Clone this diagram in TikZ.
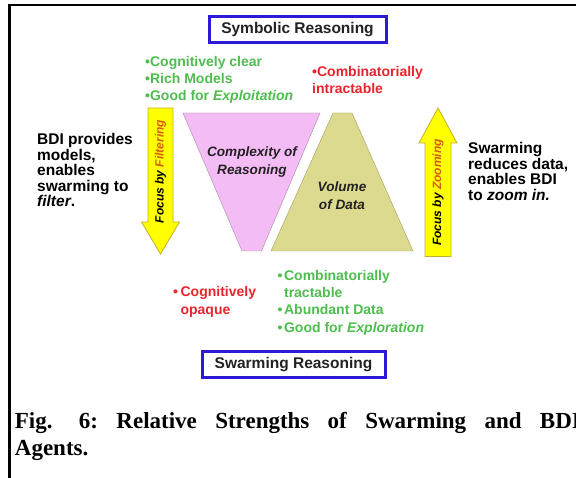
\documentclass[tikz,border=0pt]{standalone}
\usepackage{fontspec}
\setmainfont{Liberation Serif}
\setsansfont{Liberation Sans}
\usetikzlibrary{positioning}

\definecolor{cblue}{RGB}{45,25,215}
\definecolor{cgreen}{RGB}{78,190,78}
\definecolor{cred}{RGB}{232,36,44}
\definecolor{cyellow}{RGB}{255,255,0}
\definecolor{cgold}{RGB}{196,176,40}
\definecolor{cpink}{RGB}{244,188,244}
\definecolor{cpinkline}{RGB}{165,135,165}
\definecolor{ckhaki}{RGB}{220,218,142}
\definecolor{ckhakiline}{RGB}{160,158,90}
\definecolor{cfilter}{RGB}{215,92,20}
\definecolor{cink}{RGB}{34,34,34}
\newcommand{\pxsize}[2]{\fontsize{#1pt}{#2pt}\selectfont}
\tikzset{strengths/.style={x=1pt,y=-1pt,font=\sffamily\bfseries},
  reasonbox/.style={draw=cblue,line width=3pt,minimum height=26pt,inner sep=0pt,
    text=cink,font=\sffamily\bfseries\pxsize{15.5}{18}},
  focusarrow/.style={fill=cyellow,draw=cgold,line width=0.8pt,line join=miter},
  arrowtext/.style={rotate=90,inner sep=0pt,font=\sffamily\bfseries\itshape\pxsize{12}{14}},
  trilabel/.style={anchor=base,inner sep=0pt,text=cink,font=\sffamily\bfseries\itshape\pxsize{13.6}{18}},
  bullets/.style={anchor=base west,inner sep=0pt,font=\sffamily\bfseries\pxsize{14}{17.2}},
  sidetext/.style={anchor=base west,inner sep=0pt,font=\sffamily\bfseries\pxsize{15.5}{#1}}}

\begin{document}
\begin{tikzpicture}[strengths]
    \useasboundingbox (0,0) rectangle (576,478);
    \fill[white] (0,0) rectangle (576,478);
    \draw[line width=2.6pt] (9.5,478) -- (9.5,5) -- (576,5);                  % frame
    \node[reasonbox,minimum width=177pt] (symb) at (297.5,29.2) {Symbolic Reasoning};
    \node[reasonbox,minimum width=183pt] (swarm) at (293.5,365) {Swarming Reasoning};
    % the two funnels
    \draw[cpinkline,fill=cpink] (183,113) -- (320,113) -- (261.5,251) -- (242,251) -- cycle;
    \draw[ckhakiline,fill=ckhaki] (333,113) -- (352,113) -- (413,251) -- (271,251) -- cycle;
    \node[trilabel] (cplx) at (252,156.5) {\begin{tabular}[t]{@{}c@{}}Complexity of\\Reasoning\end{tabular}};
    \node[trilabel] (vol) at (342,191.5) {\begin{tabular}[t]{@{}c@{}}Volume\\of Data\end{tabular}};
    % focus arrows
    \draw[focusarrow] (148,108) -- (173,108) -- (173,222) -- (179.5,222) -- (160.5,254)
        -- (141.5,222) -- (148,222) -- cycle;
    \draw[focusarrow] (425,256.5) -- (425,143) -- (419,143) -- (438,108) -- (457,143)
        -- (451,143) -- (451,256.5) -- cycle;
    \node[arrowtext] (filt) at (160.5,171.5) {Focus by \textcolor{cfilter}{Filtering}};
    \node[arrowtext] (zoom) at (438,192.5) {Focus by \textcolor{cfilter}{Zooming}};
    % strengths and weaknesses
    \node[bullets,cgreen] (symgood) at (145,66.5)
        {\begin{tabular}[t]{@{}l@{}}•Cognitively clear\\•Rich Models\\•Good for \textit{Exploitation}\end{tabular}};
    \node[bullets,cred] (symbad) at (312,76.7)
        {\begin{tabular}[t]{@{}l@{}}•Combinatorially\\intractable\end{tabular}};
    \node[bullets,cred] (swbad) at (173,297)
        {\begin{tabular}[t]{@{}l@{\hspace{2.5pt}}l@{}}•&Cognitively\\&opaque\end{tabular}};
    \node[bullets,cgreen] (swgood) at (277.5,280.5)
        {\begin{tabular}[t]{@{}l@{\hspace{1.5pt}}l@{}}•&Combinatorially\\&tractable\\•&Abundant Data\\•&Good for \textit{Exploration}\end{tabular}};
    \node[sidetext=14.6] (bdi) at (37,144.5)
        {\begin{tabular}[t]{@{}l@{}}BDI provides\\models,\\enables\\swarming to\\\textit{filter}.\end{tabular}};
    \node[sidetext=14.3] (swm) at (468,153.5)
        {\begin{tabular}[t]{@{}l@{}}Swarming\\reduces data,\\enables BDI\\to \textit{zoom in.}\end{tabular}};
    \node[anchor=base west,inner sep=0pt] (caption) at (14.7,428.3)
        {\parbox[t]{566pt}{\rmfamily\bfseries\pxsize{23}{27}\frenchspacing Fig.\hspace{8pt} 6: Relative Strengths of Swarming and BDI\linebreak Agents.}};
\end{tikzpicture}
\end{document}
